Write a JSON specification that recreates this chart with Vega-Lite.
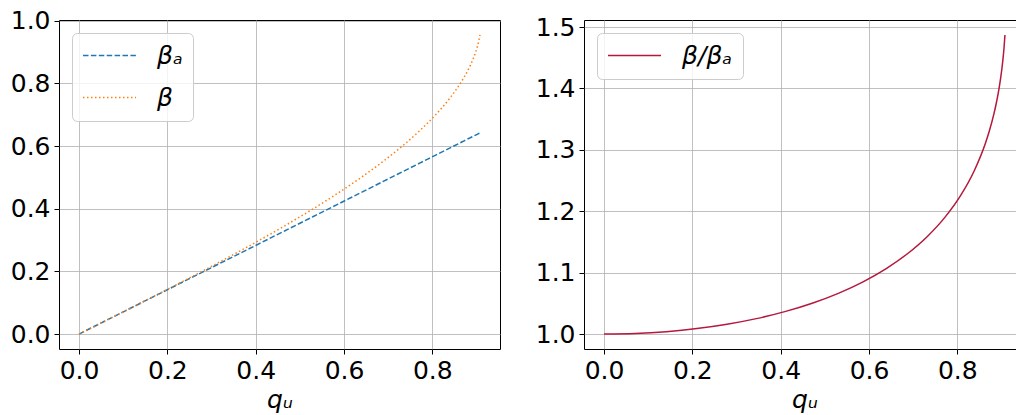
{
  "$schema": "https://vega.github.io/schema/vega-lite/v6.json",
  "background": "white",
  "padding": {"left": 9, "top": 8, "right": 0, "bottom": 0},
  "spacing": 33,
  "config": {
    "font": "DejaVu Sans",
    "view": {"stroke": "black", "strokeWidth": 1},
    "axis": {
      "labelFontSize": 25, "labelColor": "black", "labelFont": "DejaVu Sans",
      "tickColor": "black", "tickSize": 5, "tickWidth": 1, "labelPadding": 4,
      "domain": false, "grid": true, "gridColor": "#b0b0b0", "gridWidth": 0.8,
      "labelFlush": false, "labelOverlap": false, "labelBound": false,
      "titleFontSize": 25, "titleFontWeight": "normal", "titleFontStyle": "italic",
      "titleColor": "black", "titleFont": "DejaVu Sans"
    },
    "legend": {
      "orient": "top-left", "offset": 13, "padding": 10, "rowPadding": 16,
      "clipHeight": 25, "symbolType": "stroke", "symbolSize": 2809,
      "symbolStrokeWidth": 1.5, "labelOffset": 20, "labelFontSize": 25,
      "labelFontStyle": "italic", "labelFont": "DejaVu Sans", "labelColor": "black",
      "strokeColor": "#cccccc", "fillColor": "rgba(255,255,255,0.8)",
      "cornerRadius": 5, "labelLimit": 300
    }
  },
  "datasets": {
    "betas": [
      {"q": 0.000000, "value": 0.000000, "series": "βₐ"}, {"q": 0.000000, "value": 0.00, "series": "β"},
      {"q": 0.070642, "value": 0.049951, "series": "βₐ"}, {"q": 0.070642, "value": 0.05, "series": "β"},
      {"q": 0.140863, "value": 0.099605, "series": "βₐ"}, {"q": 0.140863, "value": 0.10, "series": "β"},
      {"q": 0.210249, "value": 0.148669, "series": "βₐ"}, {"q": 0.210249, "value": 0.15, "series": "β"},
      {"q": 0.278390, "value": 0.196851, "series": "βₐ"}, {"q": 0.278390, "value": 0.20, "series": "β"},
      {"q": 0.344876, "value": 0.243864, "series": "βₐ"}, {"q": 0.344876, "value": 0.25, "series": "β"},
      {"q": 0.409310, "value": 0.289426, "series": "βₐ"}, {"q": 0.409310, "value": 0.30, "series": "β"},
      {"q": 0.471307, "value": 0.333264, "series": "βₐ"}, {"q": 0.471307, "value": 0.35, "series": "β"},
      {"q": 0.530489, "value": 0.375112, "series": "βₐ"}, {"q": 0.530489, "value": 0.40, "series": "β"},
      {"q": 0.586496, "value": 0.414716, "series": "βₐ"}, {"q": 0.586496, "value": 0.45, "series": "β"},
      {"q": 0.638985, "value": 0.451831, "series": "βₐ"}, {"q": 0.638985, "value": 0.50, "series": "β"},
      {"q": 0.687633, "value": 0.486230, "series": "βₐ"}, {"q": 0.687633, "value": 0.55, "series": "β"},
      {"q": 0.732131, "value": 0.517695, "series": "βₐ"}, {"q": 0.732131, "value": 0.60, "series": "β"},
      {"q": 0.772202, "value": 0.546029, "series": "βₐ"}, {"q": 0.772202, "value": 0.65, "series": "β"},
      {"q": 0.807585, "value": 0.571049, "series": "βₐ"}, {"q": 0.807585, "value": 0.70, "series": "β"},
      {"q": 0.838053, "value": 0.592593, "series": "βₐ"}, {"q": 0.838053, "value": 0.75, "series": "β"},
      {"q": 0.863405, "value": 0.610520, "series": "βₐ"}, {"q": 0.863405, "value": 0.80, "series": "β"},
      {"q": 0.872076, "value": 0.616651, "series": "βₐ"}, {"q": 0.872076, "value": 0.82, "series": "β"},
      {"q": 0.883473, "value": 0.624710, "series": "βₐ"}, {"q": 0.883473, "value": 0.85, "series": "β"},
      {"q": 0.886841, "value": 0.627091, "series": "βₐ"}, {"q": 0.886841, "value": 0.86, "series": "β"},
      {"q": 0.892919, "value": 0.631389, "series": "βₐ"}, {"q": 0.892919, "value": 0.88, "series": "β"},
      {"q": 0.898121, "value": 0.635067, "series": "βₐ"}, {"q": 0.898121, "value": 0.90, "series": "β"},
      {"q": 0.902436, "value": 0.638118, "series": "βₐ"}, {"q": 0.902436, "value": 0.92, "series": "β"},
      {"q": 0.905864, "value": 0.640542, "series": "βₐ"}, {"q": 0.905864, "value": 0.94, "series": "β"},
      {"q": 0.907796, "value": 0.641908, "series": "βₐ"}, {"q": 0.907796, "value": 0.9545, "series": "β"}
    ],
    "ratio": [
      {"q": 0.000000, "ratio": 1.000000, "series": "β/βₐ"},
      {"q": 0.070642, "ratio": 1.000989, "series": "β/βₐ"},
      {"q": 0.140863, "ratio": 1.003963, "series": "β/βₐ"},
      {"q": 0.210249, "ratio": 1.008950, "series": "β/βₐ"},
      {"q": 0.278390, "ratio": 1.015995, "series": "β/βₐ"},
      {"q": 0.344876, "ratio": 1.025161, "series": "β/βₐ"},
      {"q": 0.409310, "ratio": 1.036533, "series": "β/βₐ"},
      {"q": 0.471307, "ratio": 1.050219, "series": "β/βₐ"},
      {"q": 0.530489, "ratio": 1.066348, "series": "β/βₐ"},
      {"q": 0.586496, "ratio": 1.085081, "series": "β/βₐ"},
      {"q": 0.638985, "ratio": 1.106607, "series": "β/βₐ"},
      {"q": 0.687633, "ratio": 1.131153, "series": "β/βₐ"},
      {"q": 0.732131, "ratio": 1.158983, "series": "β/βₐ"},
      {"q": 0.772202, "ratio": 1.190414, "series": "β/βₐ"},
      {"q": 0.807585, "ratio": 1.225815, "series": "β/βₐ"},
      {"q": 0.838053, "ratio": 1.265624, "series": "β/βₐ"},
      {"q": 0.863405, "ratio": 1.310358, "series": "β/βₐ"},
      {"q": 0.872076, "ratio": 1.329764, "series": "β/βₐ"},
      {"q": 0.883473, "ratio": 1.360631, "series": "β/βₐ"},
      {"q": 0.886841, "ratio": 1.371413, "series": "β/βₐ"},
      {"q": 0.892919, "ratio": 1.393751, "series": "β/βₐ"},
      {"q": 0.898121, "ratio": 1.417173, "series": "β/βₐ"},
      {"q": 0.902436, "ratio": 1.441739, "series": "β/βₐ"},
      {"q": 0.905864, "ratio": 1.467507, "series": "β/βₐ"},
      {"q": 0.907796, "ratio": 1.486972, "series": "β/βₐ"}
    ]
  },
  "hconcat": [
    {
      "width": 441,
      "height": 329,
      "data": {"name": "betas"},
      "mark": {"type": "line", "strokeWidth": 1.5, "interpolate": "monotone"},
      "encoding": {
        "x": {"field": "q", "type": "quantitative",
              "scale": {"domain": [-0.0454, 0.9532], "nice": false, "zero": false},
              "axis": {"values": [0, 0.2, 0.4, 0.6, 0.8], "format": ".1f", "title": "qᵤ", "titlePadding": 4}},
        "y": {"field": "value", "type": "quantitative",
              "scale": {"domain": [-0.0477, 1.0022], "nice": false, "zero": false},
              "axis": {"values": [0, 0.2, 0.4, 0.6, 0.8, 1.0], "format": ".1f", "title": null}},
        "color": {"field": "series", "type": "nominal",
                  "scale": {"domain": ["βₐ", "β"], "range": ["#1f77b4", "#ff7f0e"]},
                  "legend": {"title": null}},
        "strokeDash": {"field": "series", "type": "nominal",
                  "scale": {"domain": ["βₐ", "β"], "range": [[5.5, 2.4], [1.5, 2.5]]},
                  "legend": {"title": null}}
      }
    },
    {
      "width": 441,
      "height": 329,
      "data": {"name": "ratio"},
      "mark": {"type": "line", "strokeWidth": 1.5, "interpolate": "monotone"},
      "encoding": {
        "x": {"field": "q", "type": "quantitative",
              "scale": {"domain": [-0.0454, 0.9532], "nice": false, "zero": false},
              "axis": {"values": [0, 0.2, 0.4, 0.6, 0.8], "format": ".1f", "title": "qᵤ", "titlePadding": 4}},
        "y": {"field": "ratio", "type": "quantitative",
              "scale": {"domain": [0.9757, 1.5114], "nice": false, "zero": false},
              "axis": {"values": [1.0, 1.1, 1.2, 1.3, 1.4, 1.5], "format": ".1f", "title": null}},
        "color": {"field": "series", "type": "nominal",
                  "scale": {"domain": ["β/βₐ"], "range": ["#b5173d"]},
                  "legend": {"title": null}}
      }
    }
  ],
  "resolve": {
    "scale": {"color": "independent", "strokeDash": "independent", "x": "independent", "y": "independent"},
    "legend": {"color": "independent", "strokeDash": "independent"}
  }
}
